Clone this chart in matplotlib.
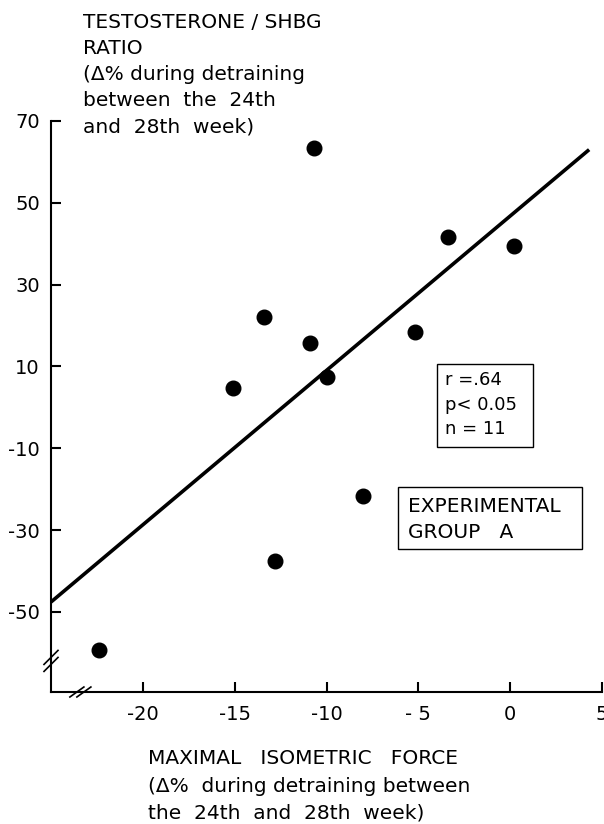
import matplotlib.pyplot as plt
from matplotlib.patches import Rectangle

# change in max isometric force vs change in testosterone/SHBG ratio (%)
force = [-10.7, -3.4, 0.2, -5.2, -13.4, -10.9, -10.0, -15.1, -8.0, -12.8, -22.4]
ratio = [63.4, 41.7, 39.5, 18.5, 22.1, 15.8, 7.5, 4.8, -21.6, -37.5, -59.3]

# regression line end points as drawn
fit_x = [-25.0, 4.3]
fit_y = [-47.6, 63.0]

xticks = [-20, -15, -10, -5, 0, 5]
xlabels = ['-20', '-15', '-10', '- 5', '0', '5']
yticks = [70, 50, 30, 10, -10, -30, -50]
ylabels = ['70', '50', '30', '10', '-10', '-30', '-50']

W, H = 604, 824
fig = plt.figure(figsize=(W / 100, H / 100), dpi=100)
ax = fig.add_axes([51 / W, 1 - 692 / H, 551 / W, 571 / H])

ax.plot(fit_x, fit_y, color='black', lw=2.6, solid_capstyle='butt')
ax.plot(force, ratio, 'o', color='black', ms=10.5)

ax.set_xlim(-25, 5)
ax.set_ylim(-69.6, 70)
ax.set_xticks(xticks)
ax.set_xticklabels(xlabels)
ax.set_yticks(yticks)
ax.set_yticklabels(ylabels)
ax.tick_params(direction='in', length=7, width=1.5, labelsize=14, pad=8)
ax.tick_params(axis='x', pad=9)

for s in ['top', 'right']:
    ax.spines[s].set_visible(False)
for s in ['left', 'bottom']:
    ax.spines[s].set_linewidth(1.5)

# axis break marks
aw, ah = 551, 571
ybrk = (-62 - (-69.6)) / 139.6
xbrk = (-23.4 - (-25)) / 30
for off in [-3.5, 3.5]:
    ax.plot([-7 / aw, 7 / aw], [ybrk + (off - 7) / ah, ybrk + (off + 7) / ah],
            transform=ax.transAxes, color='black', lw=1.2, clip_on=False)
    ax.plot([xbrk + (off - 7) / aw, xbrk + (off + 7) / aw], [-5 / ah, 5 / ah],
            transform=ax.transAxes, color='black', lw=1.2, clip_on=False)

# y axis title
ytitle = ['TESTOSTERONE / SHBG', 'RATIO', '(\u0394% during detraining',
          'between  the  24th', 'and  28th  week)']
for i, t in enumerate(ytitle):
    fig.text(83 / W, 1 - (23 + i * 26) / H, t, fontsize=14.5, va='center', ha='left')

# x axis title
xtitle = ['MAXIMAL   ISOMETRIC   FORCE', '(\u0394%  during detraining between',
          'the  24th  and  28th  week)']
for i, t in enumerate(xtitle):
    fig.text(148 / W, 1 - (759 + i * 27) / H, t, fontsize=14.5, va='center', ha='left')

# stats box
fig.patches.append(Rectangle((437 / W, 1 - 447 / H), 96 / W, 83 / H, transform=fig.transFigure,
                             fill=False, ec='black', lw=1.0))
for i, t in enumerate(['r =.64', 'p< 0.05', 'n = 11']):
    fig.text(445 / W, 1 - (380 + i * 24.5) / H, t, fontsize=13, va='center', ha='left')

# group box
fig.patches.append(Rectangle((398 / W, 1 - 549 / H), 184 / W, 62 / H, transform=fig.transFigure,
                             fill=False, ec='black', lw=1.0))
for i, t in enumerate(['EXPERIMENTAL', 'GROUP   A']):
    fig.text(408 / W, 1 - (507 + i * 25) / H, t, fontsize=14.5, va='center', ha='left')

fig.savefig('out.png', dpi=100)
